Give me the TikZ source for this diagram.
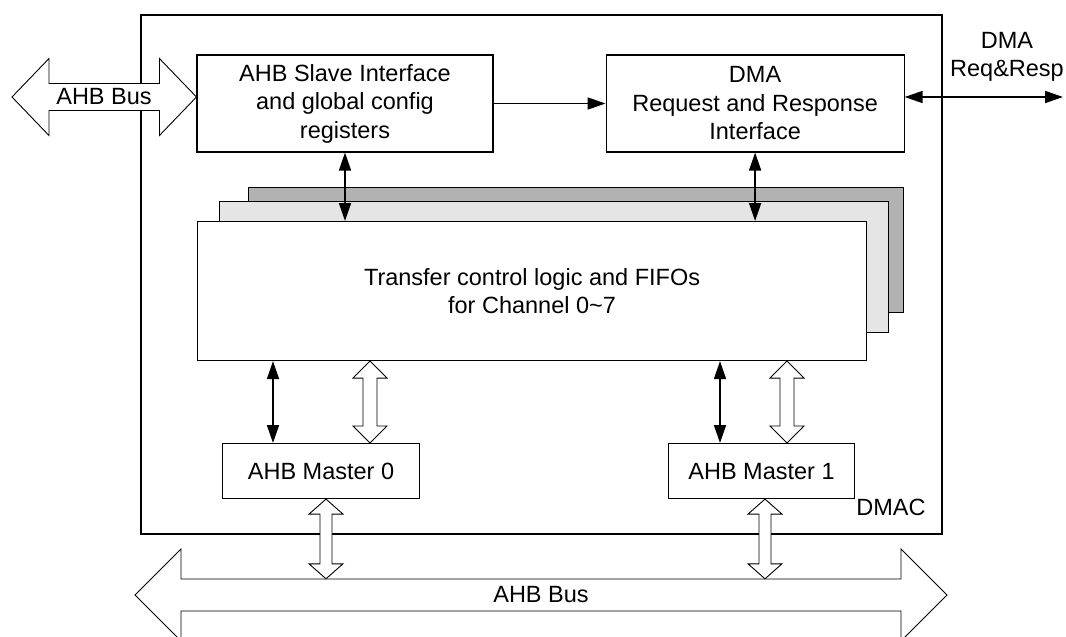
\documentclass[tikz,border=0pt]{standalone}
\usepackage{fontspec}
\setmainfont{Liberation Sans}
\usepackage{tikz}
\usetikzlibrary{arrows.meta,positioning,calc}

\begin{document}
\begin{tikzpicture}[x=1pt,y=-1pt,>={Triangle[length=18pt,width=12pt]},
font=\fontsize{23.5}{28.5}\selectfont,
blk/.style={draw,line width=1.1pt,fill=white,align=center,inner sep=0pt},
link/.style={<->,line width=1.7pt},
fatv/.style n args={3}{draw,line width=0.9pt,fill=white,to path={let \p1=(\tikztostart),\p2=(\tikztotarget) in
 (\x1,\y1) -- (\x1+#1,\y1-#3) -- (\x1+#2,\y1-#3) -- (\x1+#2,\y2+#3) -- (\x1+#1,\y2+#3) -- (\x1,\y2)
 -- (\x1-#1,\y2+#3) -- (\x1-#2,\y2+#3) -- (\x1-#2,\y1-#3) -- (\x1-#1,\y1-#3) -- cycle}},
fath/.style n args={3}{draw,line width=0.9pt,fill=white,to path={let \p1=(\tikztostart),\p2=(\tikztotarget) in
 (\x1,\y1) -- (\x1+#3,\y1+#1) -- (\x1+#3,\y1+#2) -- (\x2-#3,\y1+#2) -- (\x2-#3,\y1+#1) -- (\x2,\y1)
 -- (\x2-#3,\y1-#1) -- (\x2-#3,\y1-#2) -- (\x1+#3,\y1-#2) -- (\x1+#3,\y1-#1) -- cycle}}]
\useasboundingbox (0,0) rectangle (1066,637);

% DMAC frame
\node[draw,line width=2pt,minimum width=801pt,minimum height=519.5pt,anchor=north west] (dmac) at (140,13.5) {};
\node[anchor=east] (dmaclbl) at (929,507) {DMAC};

% top row
\node[blk,minimum width=296pt,minimum height=97pt] (slave) at (345,103.5) {AHB Slave Interface\\and global config\\registers};
\node[blk,minimum width=298pt,minimum height=97pt,right=112pt of slave] (dma) {DMA\\Request and Response\\Interface};

% channel stack
\node[blk,fill=black!30,minimum width=655pt,minimum height=125pt,anchor=north west] (ch2) at (248,187) {};
\node[blk,fill=black!10,minimum width=669pt,minimum height=131pt,anchor=north west] (ch1) at (219,201) {};
\node[blk,minimum width=669pt,minimum height=139pt,anchor=north west] (chan) at (197,221) {Transfer control logic and FIFOs\\for Channel 0\textasciitilde7};

% masters
\node[blk,minimum width=197pt,minimum height=55pt,anchor=north west] (m0) at (222,443) {AHB Master 0};
\node[blk,minimum width=186pt,minimum height=55pt,anchor=north west] (m1) at (668,443) {AHB Master 1};

% buses
\coordinate (busl) at (12,97);
\coordinate (reqend) at (1063,97);
\coordinate (busbl) at (135,595);
\coordinate (busbr) at (947,595);
\draw[fath={38.5pt}{13.5pt}{37pt}] (busl) to (slave.west |- busl);
\node (ahbl) at (104,97) {AHB Bus};
\draw[fath={46pt}{16pt}{46pt}] (busbl) to (busbr);
\node[minimum height=32pt,inner sep=0pt] (bus) at (541,595) {AHB Bus};

% links
\draw[->,line width=1.7pt] (slave) -- (dma);
\draw[link] (dma.east |- reqend) -- (reqend);
\node[align=center] (reqlbl) at (1007,57) {DMA\\Req\&Resp};
\draw[link] (slave.south) -- (slave.south |- chan.north);
\draw[link] (dma.south) -- (dma.south |- chan.north);
\draw[link] (chan.south -| 273,0) -- (m0.north -| 273,0);
\draw[link] (chan.south -| 720,0) -- (m1.north -| 720,0);
\draw[fatv={17pt}{7pt}{17pt}] (chan.south -| 370,0) to (m0.north -| 370,0);
\draw[fatv={17pt}{7pt}{17pt}] (chan.south -| 787,0) to (m1.north -| 787,0);
\draw[fatv={17pt}{6pt}{15pt}] (m0.south -| 326,0) to (bus.north -| 326,0);
\draw[fatv={17pt}{6pt}{15pt}] (m1.south -| 765,0) to (bus.north -| 765,0);
\end{tikzpicture}
\end{document}
